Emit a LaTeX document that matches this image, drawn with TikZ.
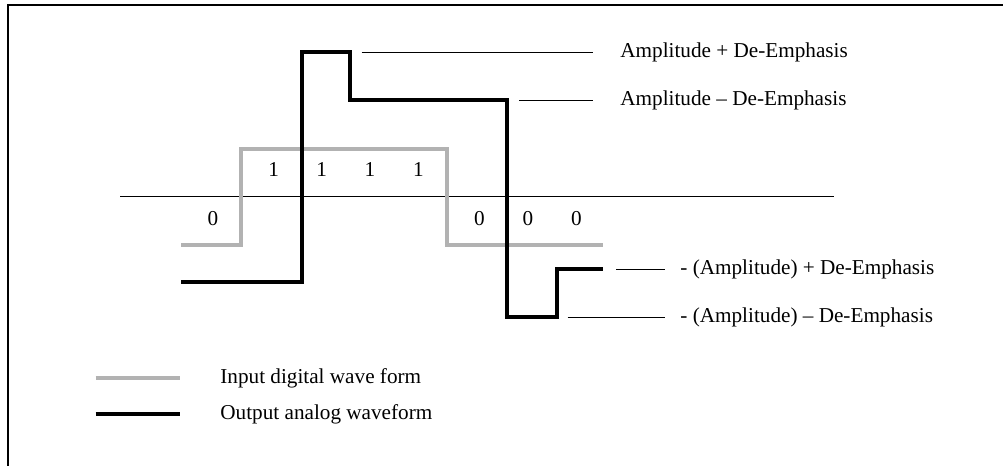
\documentclass[tikz,border=0pt]{standalone}
\usepackage{fontspec}
\setmainfont{Liberation Serif}
\usepackage{tikz}
\usetikzlibrary{positioning,calc}

\begin{document}
\begin{tikzpicture}[x=0.5pt,y=-0.5pt,
    wave/.style={line width=2pt, line join=miter},
    inwave/.style={wave, draw=black!30},
    outwave/.style={wave, draw=black},
    lead/.style={line width=0.5pt},
    lbl/.style={font=\fontsize{10.6}{12}\selectfont, inner sep=0pt}]
    \useasboundingbox (0,0) rectangle (1003,466);
    \draw[line width=1pt] (8,466) -- (8,5) -- (1003,5);

    % axis and bit values
    \draw[lead] (120,196.7) -- (834,196.7);
    \foreach \x [count=\i] in {273.7,321.7,370,418.3}
        \node[lbl] (one\i) at (\x,170) {1};
    \foreach \x [count=\i] in {213,479.5,527.8,576.3}
        \node[lbl] (zero\i) at (\x,219) {0};

    % waveforms
    \draw[inwave] (181,245) -- (240.7,245) -- (240.7,149) -- (446.7,149)
        -- (446.7,245) -- (603,245);
    \draw[outwave] (181,281.7) -- (301.7,281.7) -- (301.7,52.3) -- (350,52.3)
        -- (350,100) -- (507.3,100) -- (507.3,316.7) -- (556.7,316.7)
        -- (556.7,269.3) -- (603,269.3);

    % levels
    \node[lbl, anchor=west] (ampplus) at (620,52.3) {Amplitude + De-Emphasis};
    \node[lbl, anchor=west] (ampminus) at (620,100) {Amplitude – De-Emphasis};
    \node[lbl, anchor=west] (negplus) at (680,269.3) {- (Amplitude) + De-Emphasis};
    \node[lbl, anchor=west] (negminus) at (680,317.3) {- (Amplitude) – De-Emphasis};
    \coordinate (peak) at (361.7,52.3);
    \coordinate (high) at (519.3,100);
    \coordinate (lowhi) at (616,269.3);
    \coordinate (lowlo) at (567.7,317.3);
    \draw[lead, shorten >=13.65pt] (peak) -- (ampplus.west);
    \draw[lead, shorten >=13.65pt] (high) -- (ampminus.west);
    \draw[lead, shorten >=7.5pt] (lowhi) -- (negplus.west);
    \draw[lead, shorten >=7.5pt] (lowlo) -- (negminus.west);

    % legend
    \node[lbl, anchor=west] (inleg) at (220,378.3) {Input digital wave form};
    \node[lbl, anchor=west] (outleg) at (220,414.3) {Output analog waveform};
    \draw[inwave] (95.7,378.3) -- (180.3,378.3);
    \draw[outwave] (95.7,414.3) -- (180.3,414.3);
\end{tikzpicture}
\end{document}
